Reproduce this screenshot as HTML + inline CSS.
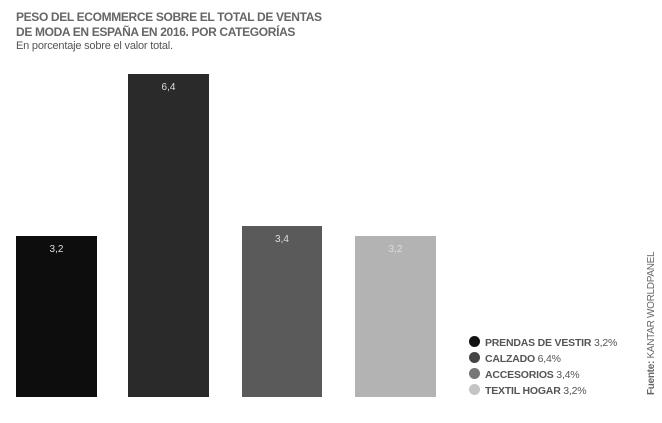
<!DOCTYPE html>
<html><head><style>
body{margin:0;width:662px;height:423px;background:#fff;position:relative;overflow:hidden;font-family:"Liberation Sans",Arial,sans-serif}
.t{position:absolute;left:16px;top:10px;font-weight:bold;font-size:12px;line-height:15px;color:#666;letter-spacing:-0.35px}
.s{position:absolute;left:16px;top:40px;font-size:11px;color:#555;letter-spacing:-0.2px}
.b{position:absolute;bottom:26px;width:81px;color:#ddd;font-size:10px;text-align:center}
.b span{position:absolute;top:8px;left:0;right:0}
.l{position:absolute;left:469px;font-size:10.5px;color:#555;line-height:16px;letter-spacing:-0.2px}
.l i{display:inline-block;width:11px;height:11px;border-radius:50%;vertical-align:-1px;margin-right:5px}
.l b{font-weight:bold}
.f{position:absolute;left:646px;top:395px;transform:rotate(-90deg);transform-origin:0 0;font-size:10px;color:#666;white-space:nowrap;letter-spacing:-0.3px}
</style></head><body>
<div class="t">PESO DEL ECOMMERCE SOBRE EL TOTAL DE VENTAS<br>DE MODA EN ESPAÑA EN 2016. POR CATEGORÍAS</div>
<div class="s">En porcentaje sobre el valor total.</div>
<div class="b" style="left:16px;height:161px;background:#0d0d0d"><span>3,2</span></div>
<div class="b" style="left:128px;height:323px;background:#2a2a2a"><span>6,4</span></div>
<div class="b" style="left:242px;width:80px;height:171px;background:#5a5a5a"><span>3,4</span></div>
<div class="b" style="left:355px;height:161px;background:#b3b3b3"><span>3,2</span></div>
<div class="l" style="top:335px"><i style="background:#111"></i><b>PRENDAS DE VESTIR</b> 3,2%</div>
<div class="l" style="top:351px"><i style="background:#444"></i><b>CALZADO</b> 6,4%</div>
<div class="l" style="top:367px"><i style="background:#777"></i><b>ACCESORIOS</b> 3,4%</div>
<div class="l" style="top:383px"><i style="background:#c4c4c4"></i><b>TEXTIL HOGAR</b> 3,2%</div>
<div class="f"><b>Fuente:</b> KANTAR WORLDPANEL</div>
</body></html>
